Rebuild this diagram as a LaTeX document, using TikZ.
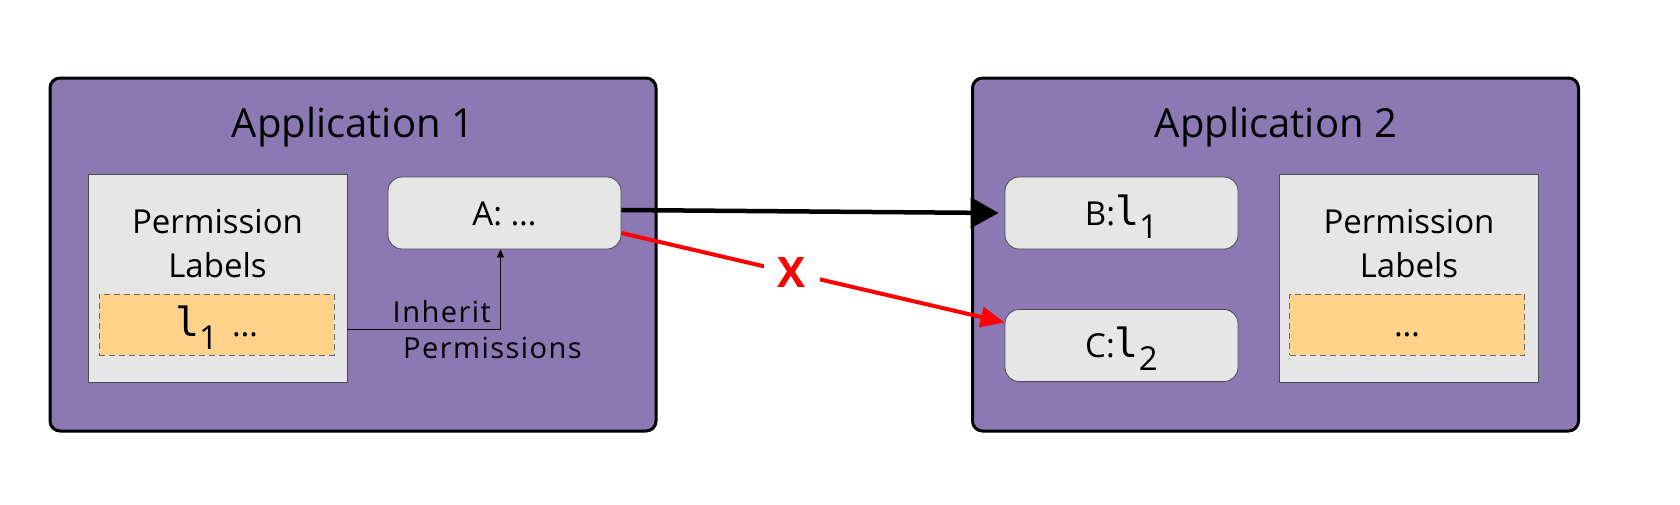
\documentclass[tikz,border=0pt]{standalone}
\usepackage{fontspec}
\setmainfont{Open Sans}
\setmonofont{DejaVu Sans Mono}
\usepackage{xcolor}
\usepackage{tikz}
\usetikzlibrary{arrows.meta}

\definecolor{appviolet}{RGB}{140,120,179}
\definecolor{boxgray}{RGB}{230,230,230}
\definecolor{labelorange}{RGB}{255,211,137}
\newcommand{\plab}[1]{{\ttfamily\fontsize{40}{40}\selectfont l}\raisebox{-13pt}{#1}}

\begin{document}
\begin{tikzpicture}[x=1pt, y=-1pt,
                    app/.style={draw, line width=3pt, fill=appviolet, rounded corners=10pt,
                                minimum width=606pt, minimum height=353pt},
                    title/.style={anchor=base, font=\fontsize{40}{48}\selectfont},
                    store/.style={draw=black!70, line width=0.8pt, fill=boxgray,
                                  minimum width=259pt, minimum height=208pt},
                    storetext/.style={align=center, anchor=base, font=\fontsize{33}{44}\selectfont},
                    labelset/.style={draw=black!60, line width=0.8pt, dash pattern=on 6pt off 4pt,
                                     fill=labelorange, minimum width=235pt, minimum height=61pt,
                                     text height=24pt, text depth=0pt, font=\fontsize{33}{40}\selectfont},
                    comp/.style={draw=black!70, line width=0.8pt, fill=boxgray, rounded corners=14pt,
                                 minimum width=233pt, minimum height=72pt,
                                 text height=24pt, text depth=0pt, font=\fontsize{33}{40}\selectfont},
                    inhtext/.style={font=\fontsize{29}{36}\selectfont\addfontfeature{LetterSpace=5}, inner sep=0pt},
                    inherit/.style={line width=1pt, -{Triangle[length=8pt, width=7pt]}},
                    flow/.style={line width=4.5pt, -{Triangle[length=28pt, width=30pt]}},
                    noflow/.style={red, line width=4pt, -{Triangle[length=24pt, width=20pt]}},
                    xmark/.style={fill=white, text=red, inner xsep=14pt, inner ysep=2pt,
                                  font=\fontsize{42}{50}\selectfont\bfseries}]
  \useasboundingbox (0,0) rectangle (1680,504);

  \node[app] (app1) at (353,254.5) {};
  \node[app] (app2) at (1275.5,254.5) {};
  \node[title] (t1) at (353,137) {Application 1};
  \node[title] (t2) at (1276,137) {Application 2};

  \node[store] (lpl) at (217.5,278) {};
  \node[storetext] (lpltext) at (217.5,277) {Permission\\Labels};
  \node[labelset] (lset) at (216.5,324.5) {\plab{1}\hspace{14pt}…};
  \node[comp] (A) at (504.5,213) {A: …};

  \node[comp] (B) at (1121.5,213) {B:\plab{1}};
  \node[comp] (C) at (1121.5,345.5) {C:\plab{2}};
  \node[store] (rpl) at (1409,278) {};
  \node[storetext] (rpltext) at (1409,277) {Permission\\Labels};
  \node[labelset] (rset) at (1407,324.5) {…};

  \draw[inherit] ([yshift=-51pt]lpl.east) -| ([xshift=-4pt]A.south);
  \node[inhtext, anchor=base east] (inh1) at (491,322) {Inherit};
  \node[inhtext, anchor=base west] (inh2) at (403,358) {Permissions};

  \draw[flow] ([yshift=3pt]A.east) -- ([xshift=-6pt]B.west);
  \draw[noflow] ([yshift=-20pt]A.east) -- node[xmark, pos=0.445] (x) {X} ([yshift=23pt]C.west);
\end{tikzpicture}
\end{document}
